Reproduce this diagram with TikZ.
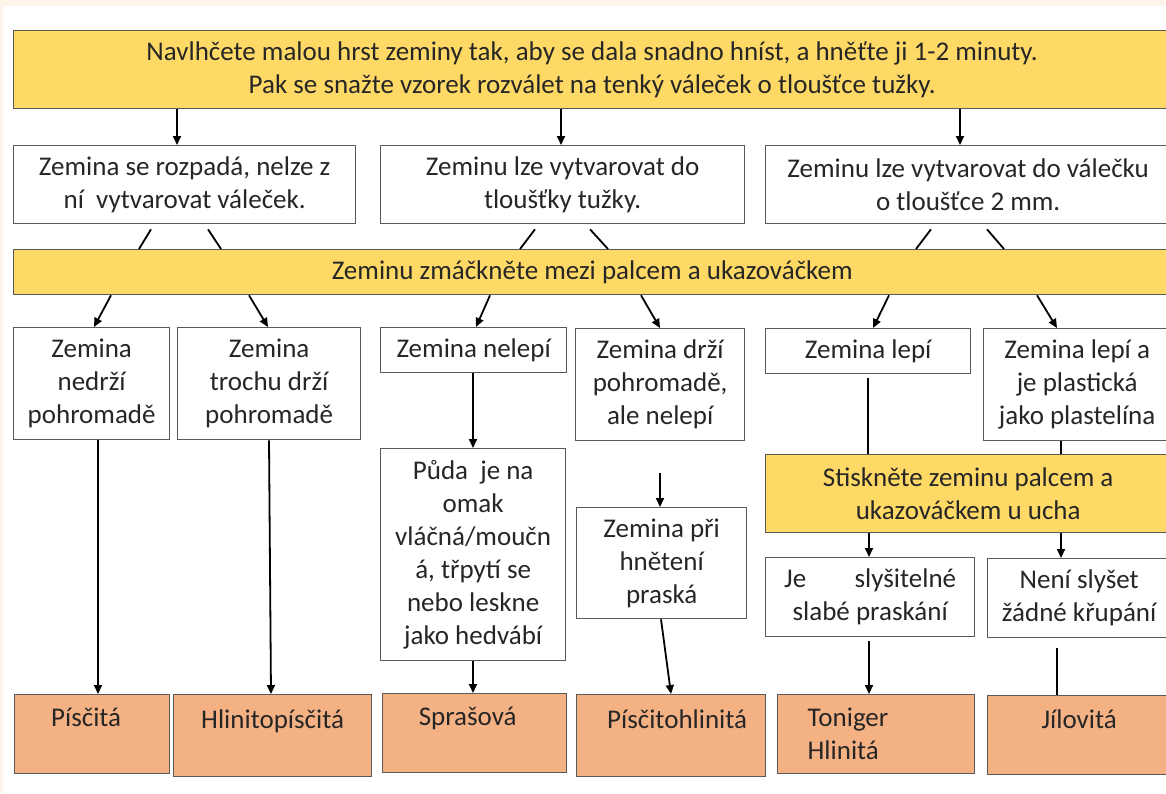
\documentclass[tikz,border=0pt]{standalone}
\usepackage{fontspec}
\setmainfont{Carlito}
\usetikzlibrary{arrows.meta,calc}

\definecolor{boxyellow}{HTML}{FFD966}
\definecolor{soilorange}{HTML}{F4B183}
\definecolor{cream}{HTML}{FEF5EA}
\definecolor{frame}{HTML}{595959}

\tikzset{
  box/.style={draw=frame, line width=1.3pt, fill=white, anchor=north west,
    inner sep=0pt, align=center, text=black!85,
    font=\fontsize{27}{33}\selectfont},
  yellowbox/.style={box, fill=boxyellow},
  soilbox/.style={box, fill=soilorange},
  arr/.style={line width=1.8pt, -{Triangle[length=9pt,width=8pt]}},
  link/.style={line width=1.8pt},
}

\begin{document}
\begin{tikzpicture}[x=1pt,y=-1pt]

%Page and background
\useasboundingbox (0,0) rectangle (1166,793);
\fill[white] (0,0) rectangle (1166,793);
\fill[cream] (0,0) rectangle (1166,6);
\fill[cream] (0,0) rectangle (3,793);

%Instruction bars
\node[yellowbox, minimum width=1157pt, minimum height=78pt] (top) at (13,30)
  {Navlhčete malou hrst zeminy tak, aby se dala snadno hníst, a hněťte ji 1-2 minuty.\\
   Pak se snažte vzorek rozválet na tenký váleček o tloušťce tužky.};
\node[yellowbox, minimum width=1157pt, minimum height=45pt] (zmack) at (13,249)
  {Zeminu zmáčkněte mezi palcem a ukazováčkem};

%First answers
\node[box, minimum width=342pt, minimum height=78pt] (rozpad) at (13,145)
  {Zemina se rozpadá, nelze z\\ní~ vytvarovat váleček.};
\node[box, minimum width=364pt, minimum height=78pt] (tuzka) at (380,145)
  {Zeminu lze vytvarovat do\\tloušťky tužky.};
\node[box, minimum width=405pt, minimum height=78pt] (valecek) at (765,145)
  {Zeminu lze vytvarovat do válečku\\o tloušťce 2 mm.};

%Second answers
\node[box, minimum width=156pt, minimum height=112pt] (nedrzi) at (13,327)
  {Zemina\\nedrží\\pohromadě};
\node[box, minimum width=183pt, minimum height=112pt] (trochu) at (177,327)
  {Zemina\\trochu drží\\pohromadě};
\node[box, minimum width=186pt, minimum height=45pt] (nelepi) at (380,327)
  {Zemina nelepí};
\node[box, minimum width=169pt, minimum height=112pt] (drzi) at (575,328)
  {Zemina drží\\pohromadě,\\ale nelepí};
\node[box, minimum width=205pt, minimum height=45pt] (lepi) at (765,328)
  {Zemina lepí};
\node[box, minimum width=187pt, minimum height=112pt] (plast) at (983,328)
  {Zemina lepí a\\je plastická\\jako plastelína};

%Further tests
\node[box, minimum width=185pt, minimum height=212pt] (puda) at (380,448)
  {Půda~ je na\\omak\\vláčná/moučn\\á, třpytí se\\nebo leskne\\jako hedvábí};
\node[box, minimum width=170pt, minimum height=111pt] (praska) at (576,507)
  {Zemina při\\hnětení\\praská};
\node[yellowbox, minimum width=405pt, minimum height=78pt] (stisk) at (765,454)
  {Stiskněte zeminu palcem a\\ukazováčkem u ucha};
\node[box, minimum width=209pt, minimum height=79pt] (slys) at (765,557)
  {\makebox[172pt]{Je\hfill slyšitelné}\\slabé praskání};
\node[box, minimum width=183pt, minimum height=79pt] (neni) at (987,558)
  {Není slyšet\\žádné křupání};

%Soil types
\node[soilbox, minimum width=155pt, minimum height=79pt] (pisc) at (14,694)
  {\hspace*{-12pt}Písčitá\\\mbox{}};
\node[soilbox, minimum width=198pt, minimum height=82pt] (hlinpisc) at (173,694)
  {Hlinitopísčitá\\\mbox{}};
\node[soilbox, minimum width=184pt, minimum height=79pt] (spras) at (382,693)
  {\hspace*{-14pt}Sprašová\\\mbox{}};
\node[soilbox, minimum width=189pt, minimum height=82pt] (pischlin) at (576,694)
  {\hspace*{12pt}Písčitohlinitá\\\mbox{}};
\node[soilbox, align=left, text width=137pt, inner xsep=30pt, minimum height=79pt] (toniger) at (777,694)
  {Toniger\\Hlinitá};
\node[soilbox, minimum width=183pt, minimum height=79pt] (jil) at (987,695)
  {Jílovitá\\\mbox{}};

%Connectors
\foreach \x/\n in {177/rozpad,561/tuzka,960/valecek}
  \draw[arr] (\x,0 |- top.south) -- (\x,0 |- \n.north);
\foreach \a/\b/\n in {151/139/rozpad,208/221/rozpad,535/520/tuzka,590/608/tuzka,931/916/valecek,987/1004/valecek}
  \draw[link] ($(\a,0 |- \n.south)+(0,5)$) -- (\b,0 |- zmack.north);
\foreach \a/\b/\n in {111/94/nedrzi,249/268/trochu,490/476/nelepi,641/660/drzi,889/873/lepi,1037/1057/plast}
  \draw[arr] (\a,0 |- zmack.south) -- (\b,0 |- \n.north);

\draw[arr] (473,0 |- nelepi.south) -- (473,0 |- puda.north);
\coordinate (gap) at (660,473);
\draw[arr] (gap) -- (gap |- praska.north);
\draw[link] ($(868,0 |- lepi.south)+(0,4)$) -- (868,0 |- stisk.north);
\draw[link] (1061,0 |- plast.south) -- (1061,0 |- stisk.north);
\draw[arr] (869,0 |- stisk.south) -- (869,0 |- slys.north);
\draw[arr] (1061,0 |- stisk.south) -- (1061,0 |- neni.north);

\draw[arr] (98,0 |- nedrzi.south) -- (98,0 |- pisc.north);
\draw[arr] (269,0 |- trochu.south) -- (271,0 |- hlinpisc.north);
\draw[arr] (473,0 |- puda.south) -- (473,0 |- spras.north);
\draw[arr] (661,0 |- praska.south) -- (671,0 |- pischlin.north);
\draw[arr] ($(869,0 |- slys.south)+(0,4)$) -- (869,0 |- toniger.north);
\draw[link] ($(1057,0 |- neni.south)+(0,10)$) -- (1057,0 |- jil.north);

\end{tikzpicture}
\end{document}
